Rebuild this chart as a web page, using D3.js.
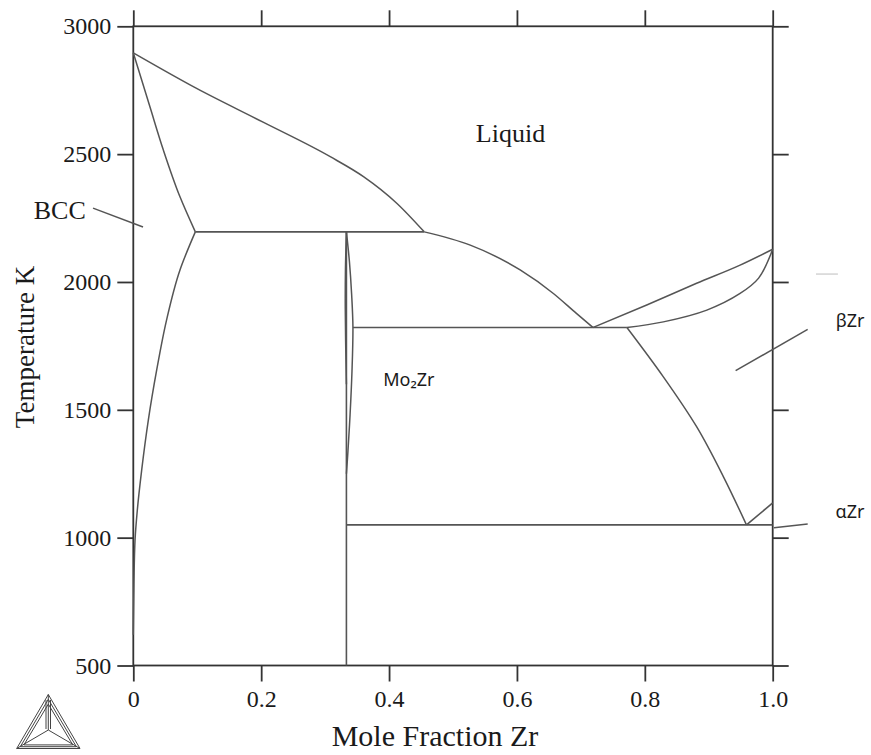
<!DOCTYPE html>
<html>
<head>
<meta charset="utf-8">
<script src="https://cdn.jsdelivr.net/npm/d3@7"></script>
<style>
html,body{margin:0;padding:0;background:#fff;}
svg{display:block;}
</style>
</head>
<body>
<svg id="chart" width="871" height="755"></svg>
<script>
// ---- data (mole fraction Zr, temperature K) ----
const xTicks = [0, 0.2, 0.4, 0.6, 0.8, 1.0];
const xTickLabels = ["0", "0.2", "0.4", "0.6", "0.8", "1.0"];
const yTicks = [500, 1000, 1500, 2000, 2500, 3000];

const liquidusMo   = [[0,2896],[0.099,2757],[0.203,2625],[0.308,2490],[0.360,2412],[0.412,2308],[0.455,2196]];
const solidusBCC   = [[0,2896],[0.026,2685],[0.047,2516],[0.073,2333],[0.097,2196]];
const solvusBCC    = [[0.097,2196],[0.073,2047],[0.052,1851],[0.0366,1656],[0.0235,1460],[0.0131,1264],[0.0063,1108],[0.0027,990],[0.001,820],[0,620]];
const liquidusMid  = [[0.455,2196],[0.527,2144],[0.605,2047],[0.657,1955],[0.693,1877],[0.719,1822]];
const liquidusZr   = [[0.719,1822],[0.803,1910],[0.881,1995],[0.949,2066],[1,2128]];
const solidusZr    = [[0.772,1822],[0.829,1844],[0.897,1890],[0.949,1955],[0.978,2015],[1,2128]];
const solvusZr     = [[0.772,1822],[0.829,1629],[0.881,1434],[0.923,1238],[0.959,1050]];
const alphaBeta    = [[0.959,1050],[1,1136]];
const mo2zrLine    = [[0.3333,2196],[0.3333,500]];
const mo2zrLens    = [[0.3333,2196],[0.338,2080],[0.3415,1950],[0.3435,1822],[0.342,1650],[0.339,1480],[0.3355,1330],[0.3333,1250]];
const mo2zrLensL   = [[0.3333,2196],[0.3318,2050],[0.3315,1900],[0.3322,1750],[0.3333,1600]];
const peritectic   = [[0.097,2196],[0.455,2196]];
const eutectic     = [[0.3435,1822],[0.772,1822]];
const eutectoid    = [[0.3333,1050],[1,1050]];

const phaseLabels = [
  {text:"Liquid", x:0.590, t:2548, font:"'Liberation Serif','Times New Roman',serif", size:26, anchor:"middle"},
  {text:"BCC", x:-0.115, t:2246, font:"'Liberation Serif','Times New Roman',serif", size:26, anchor:"middle"},
  {text:"Mo\u2082Zr", x:0.431, t:1595, font:"'Noto Sans','Open Sans',sans-serif", size:18, anchor:"middle"},
  {text:"\u03b2Zr", x:1.121, t:1822, font:"'Noto Sans','Open Sans',sans-serif", size:18, anchor:"middle"},
  {text:"\u03b1Zr", x:1.121, t:1075, font:"'Noto Sans','Open Sans',sans-serif", size:18, anchor:"middle"}
];
const pointers = [
  [[-0.063,2289],[0.0152,2215]],
  [[0.942,1653],[1.0547,1815]],
  [[1.002,1039],[1.0547,1053]]
];

// ---- layout ----
const svg = d3.select("#chart");
const x = d3.scaleLinear().domain([0,1]).range([133.3,772.7]);
const y = d3.scaleLinear().domain([500,3000]).range([665.5,26.3]);

const axisColor = "#333";
const lineColor = "#555";
const serif = "'Liberation Serif','Times New Roman',serif";

function styleAxis(g){
  g.select(".domain").remove();
  g.selectAll(".tick line").attr("stroke",axisColor).attr("stroke-width",1.8);
  g.selectAll(".tick text").attr("fill","#1a1a1a").attr("font-family",serif).attr("font-size",24);
}
svg.append("g").attr("transform",`translate(${x(0)},0)`)
  .call(d3.axisLeft(y).tickValues(yTicks).tickSize(16).tickPadding(6).tickFormat(d3.format("d")))
  .call(styleAxis);
svg.append("g").attr("transform",`translate(${x(1)},0)`)
  .call(d3.axisRight(y).tickValues(yTicks).tickSize(16).tickFormat(""))
  .call(styleAxis);
svg.append("g").attr("transform",`translate(0,${y(500)})`)
  .call(d3.axisBottom(x).tickValues(xTicks).tickSize(16).tickPadding(8).tickFormat((d,i)=>xTickLabels[i]))
  .call(styleAxis);
svg.append("g").attr("transform",`translate(0,${y(3000)})`)
  .call(d3.axisTop(x).tickValues(xTicks).tickSize(16).tickFormat(""))
  .call(styleAxis);

svg.append("rect")
  .attr("x",x(0)).attr("y",y(3000))
  .attr("width",x(1)-x(0)).attr("height",y(500)-y(3000))
  .attr("fill","none").attr("stroke",axisColor).attr("stroke-width",1.8);

const lineX = d3.line().x(d=>x(d[0])).y(d=>y(d[1])).curve(d3.curveMonotoneX);
const lineY = d3.line().x(d=>x(d[0])).y(d=>y(d[1])).curve(d3.curveMonotoneY);
const lineC = d3.line().x(d=>x(d[0])).y(d=>y(d[1])).curve(d3.curveCatmullRom.alpha(0.5));
const straight = d3.line().x(d=>x(d[0])).y(d=>y(d[1]));

const curvesX = [liquidusMo, liquidusMid, liquidusZr];
const curvesY = [solidusBCC, solvusBCC, solvusZr];
const curvesC = [solidusZr, mo2zrLens, mo2zrLensL];
const lines = [alphaBeta, mo2zrLine, peritectic, eutectic, eutectoid];

const g = svg.append("g").attr("fill","none").attr("stroke",lineColor).attr("stroke-width",1.5);
g.selectAll("path.cx").data(curvesX).join("path").attr("class","cx").attr("d",lineX);
g.selectAll("path.cy").data(curvesY).join("path").attr("class","cy").attr("d",lineY);
g.selectAll("path.cc").data(curvesC).join("path").attr("class","cc").attr("d",lineC);
g.selectAll("path.ls").data(lines).join("path").attr("class","ls").attr("d",straight).attr("stroke-width",1.6);
g.selectAll("path.pt").data(pointers).join("path").attr("class","pt").attr("d",straight);

svg.append("line").attr("x1",x(1.0677)).attr("x2",x(1.102)).attr("y1",y(2031)).attr("y2",y(2031))
  .attr("stroke","#c8c8c8").attr("stroke-width",1.2);

svg.append("g").selectAll("text").data(phaseLabels).join("text")
  .attr("x",d=>x(d.x)).attr("y",d=>y(d.t))
  .attr("text-anchor",d=>d.anchor)
  .attr("font-family",d=>d.font).attr("font-size",d=>d.size)
  .attr("fill","#1a1a1a").text(d=>d.text);

svg.append("text").attr("x",435).attr("y",746).attr("text-anchor","middle")
  .attr("font-family",serif).attr("font-size",30).attr("fill","#1a1a1a").text("Mole Fraction Zr");
svg.append("text").attr("transform","translate(34,347) rotate(-90)").attr("text-anchor","middle")
  .attr("font-family",serif).attr("font-size",27).attr("fill","#1a1a1a").text("Temperature K");

const logo = svg.append("g").attr("fill","none").attr("stroke","#444").attr("stroke-width",1);
const apex=[48.3,694.5], bl=[16.7,748.5], br=[80,748.5], c=[48.3,730];
[0,3,6].forEach(k=>{
  logo.append("path").attr("d",
    `M${apex[0]},${apex[1]+k*1.6} L${bl[0]+k*1.2},${bl[1]-k*0.6} L${br[0]-k*1.2},${br[1]-k*0.6} Z`);
});
[apex,bl,br].forEach(p=>{
  logo.append("line").attr("x1",p[0]).attr("y1",p[1]).attr("x2",c[0]).attr("y2",c[1]);
});
logo.append("line").attr("x1",46).attr("y1",700).attr("x2",46).attr("y2",729);
logo.append("line").attr("x1",50.5).attr("y1",700).attr("x2",50.5).attr("y2",729);
</script>
</body>
</html>
